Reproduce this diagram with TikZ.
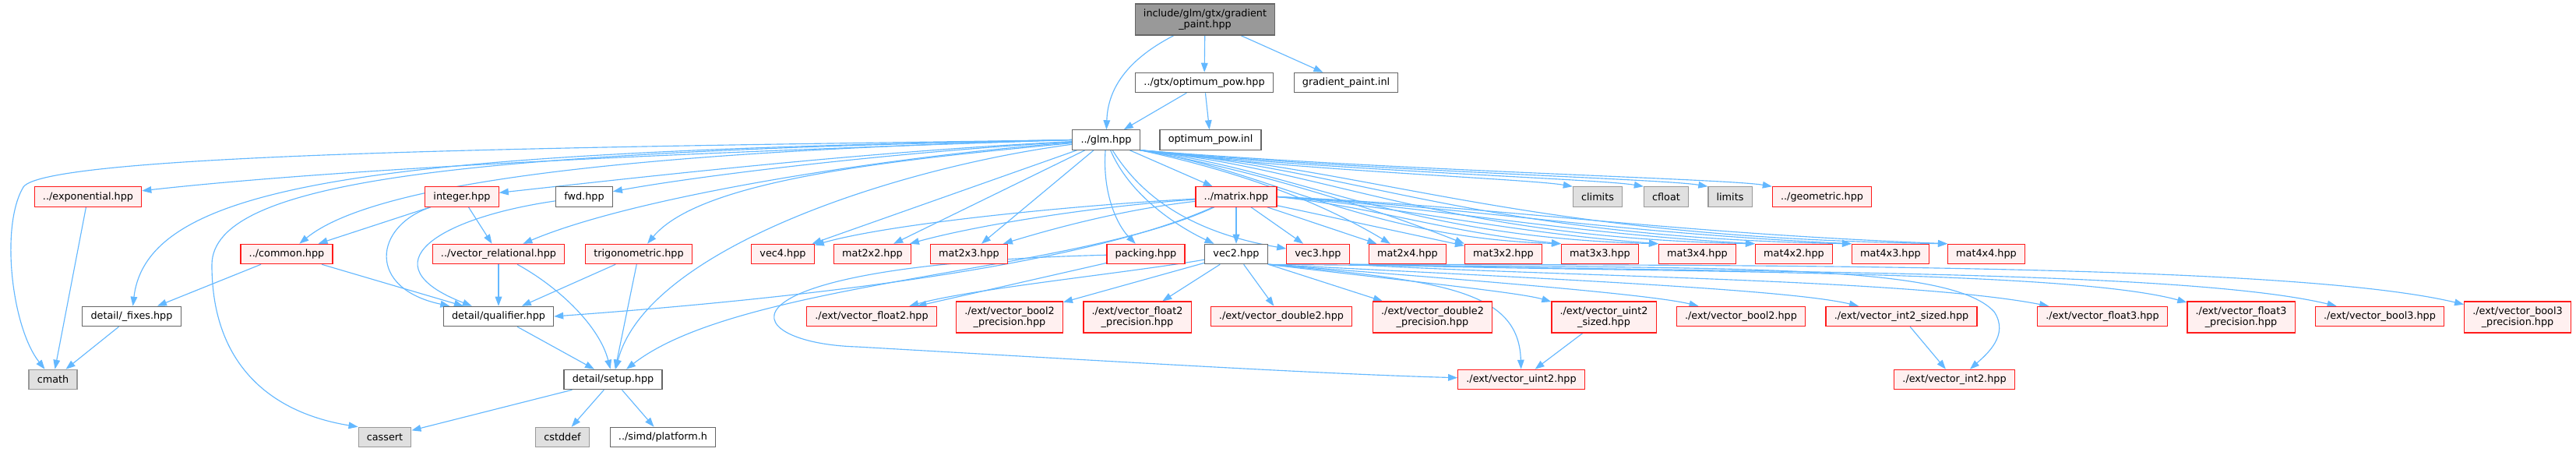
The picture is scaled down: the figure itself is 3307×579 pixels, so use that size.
\documentclass[tikz,border=0pt]{standalone}
\usepackage{fontspec}
\setmainfont{DejaVu Sans}
\usetikzlibrary{arrows.meta,backgrounds}
\definecolor{depblue}{HTML}{63B8FF}
\definecolor{truncred}{HTML}{FF1A1A}
\definecolor{truncfill}{HTML}{FFF0F0}
\definecolor{grey40}{HTML}{666666}
\definecolor{grey60}{HTML}{999999}
\definecolor{grey90}{HTML}{E0E0E0}
\tikzset{
  hdr/.style={draw=grey40, fill=white, line width=0.9pt, inner xsep=8pt, inner ysep=2pt, minimum height=19pt, align=center, font=\fontsize{9.6pt}{10.5pt}\selectfont},
  trunc/.style={hdr, draw=truncred, fill=truncfill},
  sys/.style={hdr, draw=grey60, fill=grey90},
  root/.style={hdr, draw=grey40, fill=grey60},
  tall/.style={minimum height=30pt},
  dep/.style={-{Triangle[length=9pt,width=6.5pt]}, draw=depblue, line width=0.85pt},
}
\begin{document}
\begin{tikzpicture}[x=0.75pt,y=-0.75pt]
  \useasboundingbox (0,0) rectangle (3307,579);
  \node[root, tall] (top) at (1547,25) {include/glm/gtx/gradient\\\_paint.hpp};
  \node[hdr] (optpow) at (1546,106) {../gtx/optimum\_pow.hpp};
  \node[hdr] (gpinl) at (1728,106) {gradient\_paint.inl};
  \node[hdr] (glm) at (1420,179.5) {../glm.hpp};
  \node[hdr] (optinl) at (1554,179.5) {optimum\_pow.inl};
  \node[trunc] (exponential) at (113,252.5) {../exponential.hpp};
  \node[trunc] (integer) at (593,252.5) {integer.hpp};
  \node[hdr] (fwd) at (750,252.5) {fwd.hpp};
  \node[trunc] (mtx) at (1587,252.5) {../matrix.hpp};
  \node[sys] (climits) at (2051,252.5) {climits};
  \node[sys] (cfloat) at (2139,252.5) {cfloat};
  \node[sys] (limits) at (2221,252.5) {limits};
  \node[trunc] (geometric) at (2339,252.5) {../geometric.hpp};
  \node[trunc] (common) at (368,326) {../common.hpp};
  \node[trunc] (vecrel) at (640,326) {../vector\_relational.hpp};
  \node[trunc] (trig) at (820,326) {trigonometric.hpp};
  \node[trunc] (vec4) at (1005,326) {vec4.hpp};
  \node[trunc] (packing) at (1471,326) {packing.hpp};
  \node[hdr] (vec2) at (1587,326) {vec2.hpp};
  \node[trunc] (vec3) at (1692,326) {vec3.hpp};
  \foreach \m/\x in {2x2/1120,2x3/1244,2x4/1807,3x2/1930,3x3/2054,3x4/2179,4x2/2303,4x3/2427,4x4/2550}
    \node[trunc] (mat\m) at (\x,326) {mat\m.hpp};
  \node[hdr] (fixes) at (169,406) {detail/\_fixes.hpp};
  \node[hdr] (qualifier) at (640,406) {detail/qualifier.hpp};
  \node[trunc] (float2) at (1119,406) {./ext/vector\_float2.hpp};
  \node[trunc, tall] (bool2p) at (1296,407) {./ext/vector\_bool2\\\_precision.hpp};
  \node[trunc, tall] (float2p) at (1460,407) {./ext/vector\_float2\\\_precision.hpp};
  \node[trunc] (double2) at (1645,406) {./ext/vector\_double2.hpp};
  \node[trunc, tall] (double2p) at (1839,407) {./ext/vector\_double2\\\_precision.hpp};
  \node[trunc, tall] (uint2sized) at (2059,407) {./ext/vector\_uint2\\\_sized.hpp};
  \node[trunc] (bool2) at (2235,406) {./ext/vector\_bool2.hpp};
  \node[trunc] (int2sized) at (2441,406) {./ext/vector\_int2\_sized.hpp};
  \node[trunc] (float3) at (2699,406) {./ext/vector\_float3.hpp};
  \node[trunc, tall] (float3p) at (2877,407) {./ext/vector\_float3\\\_precision.hpp};
  \node[trunc] (bool3) at (3055,406) {./ext/vector\_bool3.hpp};
  \node[trunc, tall] (bool3p) at (3232,407) {./ext/vector\_bool3\\\_precision.hpp};
  \node[sys] (cmath) at (68,487) {cmath};
  \node[hdr] (setup) at (787,487) {detail/setup.hpp};
  \node[trunc] (uint2) at (1953,487) {./ext/vector\_uint2.hpp};
  \node[trunc] (int2) at (2509,487) {./ext/vector\_int2.hpp};
  \node[sys] (cassert) at (494,561) {cassert};
  \node[sys] (cstddef) at (722,561) {cstddef};
  \node[hdr] (platform) at (851,561) {../simd/platform.h};

  \begin{scope}[on background layer]
  \fill[white] (0,0) rectangle (3307,579);
  \draw[dep] (top) .. controls (1440,80) and (1422,120) .. (glm);
  \draw[dep] (top) -- (optpow);
  \draw[dep] (top) -- (gpinl);
  \draw[dep] (optpow) -- (glm);
  \draw[dep] (optpow) -- (optinl);

  \draw[dep] (glm.west) .. controls (800,188) and (60,195) .. (30,240) .. controls (0,290) and (15,420) .. (cmath);
  \draw[dep] (glm.west) .. controls (900,195) and (450,215) .. (exponential);
  \draw[dep] (glm.west) .. controls (500,195) and (190,230) .. (fixes);
  \draw[dep] (glm.west) .. controls (800,195) and (480,235) .. (common);
  \draw[dep] (glm.west) .. controls (600,195) and (272,230) .. (272,340) .. controls (272,470) and (350,530) .. (cassert.north west);
  \draw[dep] (glm) .. controls (1100,195) and (800,230) .. (integer);
  \draw[dep] (glm) .. controls (1150,195) and (900,225) .. (fwd);
  \draw[dep] (glm) .. controls (1150,200) and (820,250) .. (vecrel);
  \draw[dep] (glm) .. controls (1150,205) and (900,230) .. (trig);
  \draw[dep] (glm) .. controls (1150,215) and (830,320) .. (setup);
  \draw[dep] (glm) -- (vec4);
  \draw[dep] (glm) -- (mat2x2);
  \draw[dep] (glm) -- (mat2x3);
  \draw[dep] (glm) .. controls (1415,250) and (1435,290) .. (packing);
  \draw[dep] (glm) -- (mtx);
  \draw[dep] (glm) .. controls (1450,250) and (1510,290) .. (vec2);
  \draw[dep] (glm) .. controls (1470,260) and (1540,300) .. (vec3);
  \draw[dep] (glm.south east) .. controls (1600,222) and (1700,262) .. (mat2x4);
  \draw[dep] (glm.south east) .. controls (1614,218) and (1780,273) .. (mat3x2.north west);
  \foreach \m/\a/\b in {3x3/160/254, 3x4/200/329, 4x2/240/403, 4x3/275/477, 4x4/310/551}
    \draw[dep] (glm.south east) .. controls +(\a,24) and +(-\b,-8) .. (mat\m.north west);
  \foreach \t/\a in {climits/200, cfloat/240, limits/280, geometric/320}
    \draw[dep] (glm.south east) .. controls +(\a,26) and +(-60,-10) .. (\t.north west);

  \draw[dep] (exponential) -- (cmath);
  \draw[dep] (fixes) -- (cmath);
  \draw[dep] (common) -- (fixes);
  \draw[dep] (common) -- (qualifier);
  \draw[dep] (integer) -- (common);
  \draw[dep] (integer) -- (vecrel);
  \draw[dep] (integer) .. controls (480,290) and (470,370) .. (qualifier);
  \draw[dep] (fwd) .. controls (560,280) and (470,340) .. (qualifier);
  \draw[dep] (vecrel) -- (qualifier);
  \draw[dep] (vecrel) .. controls (720,370) and (770,420) .. (setup);
  \draw[dep] (trig) -- (qualifier);
  \draw[dep] (trig) -- (setup);
  \draw[dep] (qualifier) -- (setup);
  \draw[dep] (setup) -- (cassert);
  \draw[dep] (setup) -- (cstddef);
  \draw[dep] (setup) -- (platform);

  \draw[dep] (mtx) -- (vec2);
  \draw[dep] (mtx) -- (vec3);
  \draw[dep] (mtx) -- (mat2x4);
  \draw[dep] (mtx) -- (mat3x2);
  \draw[dep] (mtx) .. controls (1400,262) and (1150,285) .. (vec4);
  \draw[dep] (mtx) .. controls (1400,265) and (1250,290) .. (mat2x2);
  \draw[dep] (mtx) .. controls (1430,270) and (1330,300) .. (mat2x3);
  \draw[dep] (mtx) .. controls (1380,345) and (1000,385) .. (qualifier.east);
  \draw[dep] (mtx) .. controls (1380,350) and (950,360) .. (setup);
  \foreach \m/\a/\b in {3x3/120/150, 3x4/160/200, 4x2/200/260, 4x3/240/320, 4x4/280/380}
    \draw[dep] (mtx.east) .. controls +(\a,12) and +(-\b,-15) .. (mat\m.north west);

  \draw[dep] (packing) -- (float2);
  \draw[dep] (packing) .. controls (900,340) and (940,440) .. (1100,445) .. controls (1450,465) and (1700,480) .. (uint2);
  \draw[dep] (vec2) .. controls (1450,350) and (1250,370) .. (float2);
  \draw[dep] (vec2) -- (bool2p);
  \draw[dep] (vec2) -- (float2p);
  \draw[dep] (vec2) -- (double2);
  \draw[dep] (vec2) -- (double2p);
  \draw[dep] (vec2.south east) .. controls (1800,360) and (1950,375) .. (uint2sized);
  \draw[dep] (vec2.south east) .. controls (1900,360) and (2120,378) .. (bool2);
  \draw[dep] (vec2.south east) .. controls (2000,358) and (2300,372) .. (int2sized);
  \draw[dep] (vec2.south east) .. controls (1850,360) and (1950,372) .. (uint2);
  \draw[dep] (vec2.south east) .. controls (2200,345) and (2500,335) .. (2560,400) .. controls (2580,430) and (2550,455) .. ([xshift=15pt]int2.north);
  \draw[dep] (vec3.south east) .. controls (2000,355) and (2450,358) .. (float3);
  \draw[dep] (vec3.south east) .. controls (2100,350) and (2650,345) .. (float3p);
  \draw[dep] (vec3.south east) .. controls (2200,350) and (2800,345) .. (bool3);
  \draw[dep] (vec3.south east) .. controls (2300,340) and (2950,340) .. (bool3p);
  \draw[dep] (uint2sized) -- (uint2);
  \draw[dep] (int2sized) -- (int2);
  \end{scope}
\end{tikzpicture}
\end{document}
